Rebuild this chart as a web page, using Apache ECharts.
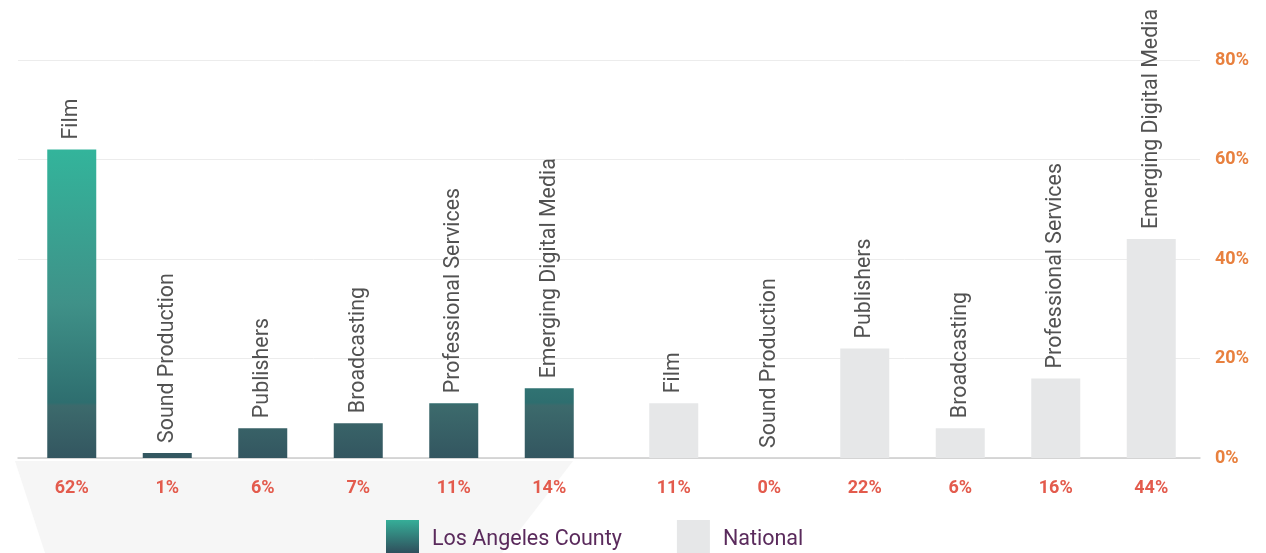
<!DOCTYPE html>
<html>
<head>
<meta charset="utf-8">
<script src="https://cdn.jsdelivr.net/npm/echarts@6/dist/echarts.min.js"></script>
<style>
  html, body { margin: 0; padding: 0; background: #fff; }
  #chart { width: 1266px; height: 553px; }
</style>
</head>
<body>
<div id="chart"></div>
<script>
var laCategories = ['Film', 'Sound Production', 'Publishers', 'Broadcasting', 'Professional Services', 'Emerging Digital Media'];
var laValues = [62, 1, 6, 7, 11, 14];
var natCategories = ['Film', 'Sound Production', 'Publishers', 'Broadcasting', 'Professional Services', 'Emerging Digital Media'];
var natValues = [11, 0, 22, 6, 16, 44];
var yTicks = [0, 20, 40, 60, 80];

var myChart = echarts.init(document.getElementById('chart'));

// bar fill runs over the whole plot height, so short bars only get the dark end
var laFill = {
  type: 'linear', x: 0, y: 150, x2: 0, y2: 458, global: true,
  colorStops: [
    { offset: 0, color: '#33b49b' },
    { offset: 0.5, color: '#3f9188' },
    { offset: 0.82, color: '#2e6e6f' },
    { offset: 0.83, color: '#3c6a6c' },
    { offset: 1, color: '#335660' }
  ]
};
var laIcon = {
  type: 'linear', x: 0, y: 0, x2: 0, y2: 1,
  colorStops: [
    { offset: 0, color: '#36ae98' },
    { offset: 1, color: '#2f4f5c' }
  ]
};

var yMax = yTicks[yTicks.length - 1];
var yStep = yTicks[1] - yTicks[0];

function catLabel() {
  return {
    show: true,
    position: 'top',
    rotate: 90,
    align: 'left',
    verticalAlign: 'middle',
    distance: 10,
    formatter: '{b}',
    color: '#525252',
    fontFamily: 'Roboto',
    fontSize: 21.4
  };
}

function pctAxis(idx, names, vals) {
  return {
    type: 'category',
    gridIndex: idx,
    data: names,
    axisLine: { show: false },
    axisTick: { show: false },
    axisLabel: {
      margin: 21,
      color: '#e35b4d',
      fontFamily: 'Roboto',
      fontWeight: 'bold',
      fontSize: 18,
      formatter: function (v, i) { return vals[i] + '%'; }
    }
  };
}

var option = {
  backgroundColor: '#ffffff',
  animation: false,
  graphic: [{
    type: 'polygon',
    z: -10,
    shape: { points: [[15, 461], [573, 461], [502, 553], [45, 553]] },
    style: { fill: '#f6f6f6' }
  }],
  legend: {
    left: 386,
    top: 520,
    padding: 0,
    itemWidth: 33,
    itemHeight: 33,
    itemGap: 55,
    icon: 'rect',
    formatter: '{t|{name}}',
    textStyle: {
      color: '#5a2a5c',
      fontFamily: 'Roboto',
      fontSize: 21.5,
      rich: {
        t: {
          color: '#5a2a5c',
          fontFamily: 'Roboto',
          fontSize: 21.5,
          padding: [6, 0, 0, 8]
        }
      }
    },
    data: [
      { name: 'Los Angeles County', itemStyle: { color: laIcon } },
      { name: 'National', itemStyle: { color: '#e6e7e8' } }
    ]
  },
  grid: [
    { left: 18, right: 66, top: 60, bottom: 95 },
    { left: 24, width: 573, top: 60, bottom: 95 },
    { left: 626, right: 67, top: 60, bottom: 95 }
  ],
  xAxis: [
    {
      type: 'category',
      gridIndex: 0,
      data: [''],
      axisLine: { lineStyle: { color: '#cccccc', width: 1.5 } },
      axisTick: { show: false },
      axisLabel: { show: false }
    },
    pctAxis(1, laCategories, laValues),
    pctAxis(2, natCategories, natValues)
  ],
  yAxis: [
    {
      type: 'value',
      gridIndex: 0,
      position: 'right',
      min: 0,
      max: yMax,
      interval: yStep,
      axisLine: { show: false },
      axisTick: { show: false },
      splitLine: { lineStyle: { color: '#ececec', width: 1 } },
      axisLabel: {
        margin: 15,
        color: '#e8803e',
        fontFamily: 'Roboto',
        fontWeight: 'bold',
        fontSize: 18,
        formatter: '{value}%'
      }
    },
    { type: 'value', gridIndex: 1, min: 0, max: yMax, show: false },
    { type: 'value', gridIndex: 2, min: 0, max: yMax, show: false }
  ],
  series: [
    {
      name: 'Los Angeles County',
      type: 'bar',
      xAxisIndex: 1,
      yAxisIndex: 1,
      barWidth: 49,
      itemStyle: { color: laFill },
      label: catLabel(),
      data: laValues
    },
    {
      name: 'National',
      type: 'bar',
      xAxisIndex: 2,
      yAxisIndex: 2,
      barWidth: 49,
      itemStyle: { color: '#e6e7e8' },
      label: catLabel(),
      data: natValues
    }
  ]
};

myChart.setOption(option);
</script>
</body>
</html>
